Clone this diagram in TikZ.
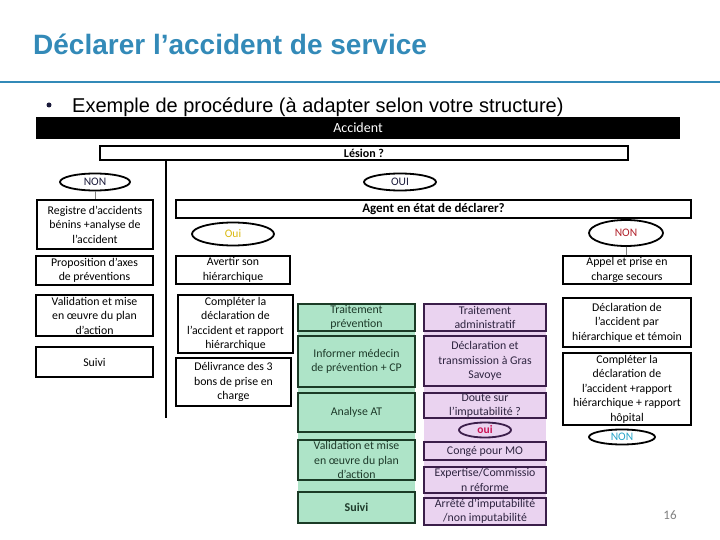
\documentclass[tikz,border=0pt]{standalone}
\usepackage{fontspec}
\setmainfont{Carlito}
\newfontfamily\arialf{Liberation Sans}
\usetikzlibrary{shapes.geometric}
\definecolor{titleblue}{HTML}{338AB8}
\definecolor{gfill}{HTML}{AEE4C8}
\definecolor{gborder}{HTML}{1B3B26}
\definecolor{gtext}{HTML}{1E3A2A}
\definecolor{pfill}{HTML}{EAD3F0}
\definecolor{pborder}{HTML}{3B1E4A}
\definecolor{ptext}{HTML}{2E2440}
\definecolor{navytxt}{HTML}{1A1A3A}
\definecolor{yellowtxt}{HTML}{D9B80F}
\definecolor{redtxt}{HTML}{B0202A}
\definecolor{crimson}{HTML}{CC1456}
\definecolor{cyantxt}{HTML}{2AA5C8}
\begin{document}
\begin{tikzpicture}[x=1pt,y=-1pt,
  bx/.style={draw=black, line width=1.8pt, align=center, inner sep=0pt, font=\fontsize{11.8}{14.5}\selectfont},
  gbx/.style={bx, draw=gborder, fill=gfill, text=gtext},
  pbx/.style={bx, draw=pborder, fill=pfill, text=ptext},
  ell/.style={ellipse, draw=black, line width=1.8pt, inner sep=0pt, font=\fontsize{11.5}{14}\selectfont},
  conn/.style={draw=gray, line width=0.8pt}]
\useasboundingbox (0,0) rectangle (720,540);
% title
\node[anchor=base west, inner sep=0pt, font=\arialf\bfseries\fontsize{28}{32}\selectfont, text=titleblue] (title) at (33,55) {Déclarer l’accident de service};
\draw[titleblue, line width=2.8pt] (0,82) -- (720,82);
\node[anchor=base west, inner sep=0pt, font=\arialf\fontsize{20}{24}\selectfont] (sub) at (72,113) {Exemple de procédure (à adapter selon votre structure)};
\node[circle, fill=navytxt, inner sep=0pt, minimum size=5pt] (bullet) at (49,105) {};
% top bars
\node[bx, fill=black, text=white, minimum width=642pt, minimum height=20pt, font=\fontsize{14}{16}\selectfont] (accident) at (358,128) {Accident};
\node[bx, minimum width=528pt, minimum height=14pt, font=\bfseries\fontsize{12}{14}\selectfont] (lesion) at (364,153) {Lésion ?};
\node[ell, minimum width=70pt, minimum height=17pt, text=navytxt] (non1) at (95,182) {NON};
\node[ell, minimum width=72pt, minimum height=17pt, text=navytxt] (oui1) at (400,182) {OUI};
% left column
\node[bx, minimum width=116pt, minimum height=49pt] (registre) at (95,224.5) {Registre d’accidents\\bénins +analyse de\\l’accident};
\node[bx, minimum width=117pt, minimum height=29pt] (propo) at (94.5,270.5) {Proposition d’axes\\de préventions};
\node[bx, minimum width=117pt, minimum height=41pt] (valid1) at (94.5,315.5) {Validation et mise\\en œuvre du plan\\d’action};
\node[bx, minimum width=117pt, minimum height=30pt] (suivi1) at (94.5,362) {Suivi};
\draw[conn] (non1) -- (registre);
% vertical separator
\coordinate (vend) at (166,418);
\draw[black, line width=2.5pt] (lesion.south -| vend) -- (vend);
% agent
\node[bx, minimum width=515pt, minimum height=18pt, font=\bfseries\fontsize{13}{15}\selectfont] (agent) at (433.5,209) {Agent en état de déclarer?};
\node[ell, minimum width=82pt, minimum height=23pt, text=yellowtxt] (oui2) at (233,234) {Oui};
\node[ell, minimum width=74pt, minimum height=26pt, text=redtxt] (non2) at (626,233) {NON};
% second column
\node[bx, minimum width=114pt, minimum height=28pt] (avertir) at (233,270) {Avertir son\\hiérarchique};
\node[bx, minimum width=115pt, minimum height=58pt] (completer) at (235.5,324) {Compléter la\\déclaration de\\l’accident et rapport\\hiérarchique};
\node[bx, minimum width=115pt, minimum height=48pt] (delivrance) at (233.5,382) {Délivrance des 3\\bons de prise en\\charge};
% green column
\fill[gfill] (298,303) rectangle (415,523);
\node[gbx, minimum width=117pt, minimum height=27pt] (tprev) at (356.5,317.5) {Traitement\\prévention};
\node[gbx, minimum width=117pt, minimum height=51pt] (informer) at (356.5,361.5) {Informer médecin\\de prévention + CP};
\node[gbx, minimum width=117pt, minimum height=39pt] (analyse) at (356.5,412.5) {Analyse AT};
\node[gbx, minimum width=117pt, minimum height=40pt] (valid2) at (356.5,460) {Validation et mise\\en œuvre du plan\\d’action};
\node[gbx, minimum width=117pt, minimum height=31pt, font=\bfseries\fontsize{12}{14}\selectfont] (suivi2) at (356.5,507.5) {Suivi};
% purple column
\fill[pfill] (424,303) rectangle (546,525);
\node[pbx, minimum width=122pt, minimum height=27pt] (tadmin) at (485,317.5) {Traitement\\administratif};
\node[pbx, minimum width=122pt, minimum height=50pt] (declgras) at (485,361) {Déclaration et\\transmission à Gras\\Savoye};
\node[pbx, minimum width=122pt, minimum height=25pt] (doute) at (485,405.5) {Doute sur\\l’imputabilité ?};
\node[ell, draw=pborder, fill=pfill, minimum width=52pt, minimum height=15pt, text=crimson, font=\bfseries\fontsize{11.5}{14}\selectfont] (oui3) at (485,430) {oui};
\node[pbx, minimum width=122pt, minimum height=18pt] (conge) at (485,451) {Congé pour MO};
\node[pbx, minimum width=122pt, minimum height=26pt] (expertise) at (485,480) {Expertise/Commissio\\n réforme};
\node[pbx, minimum width=122pt, minimum height=27pt] (arrete) at (485,511.5) {Arrêté d’imputabilité\\/non imputabilité};
% right column
\node[bx, minimum width=128pt, minimum height=28pt] (appel) at (627,270) {Appel et prise en\\charge secours};
\draw[conn] (non2) -- (appel);
\node[bx, minimum width=128pt, minimum height=49pt] (declhier) at (627,322.5) {Déclaration de\\l’accident par\\hiérarchique et témoin};
\node[bx, minimum width=128pt, minimum height=72pt] (comphop) at (627,389) {Compléter la\\déclaration de\\l’accident +rapport\\hiérarchique + rapport\\hôpital};
\node[ell, minimum width=66pt, minimum height=15pt, text=cyantxt] (non3) at (622,437) {NON};
% page number
\node[text=gray, font=\fontsize{13}{15}\selectfont] (pagenum) at (670,515) {16};
\end{tikzpicture}
\end{document}
